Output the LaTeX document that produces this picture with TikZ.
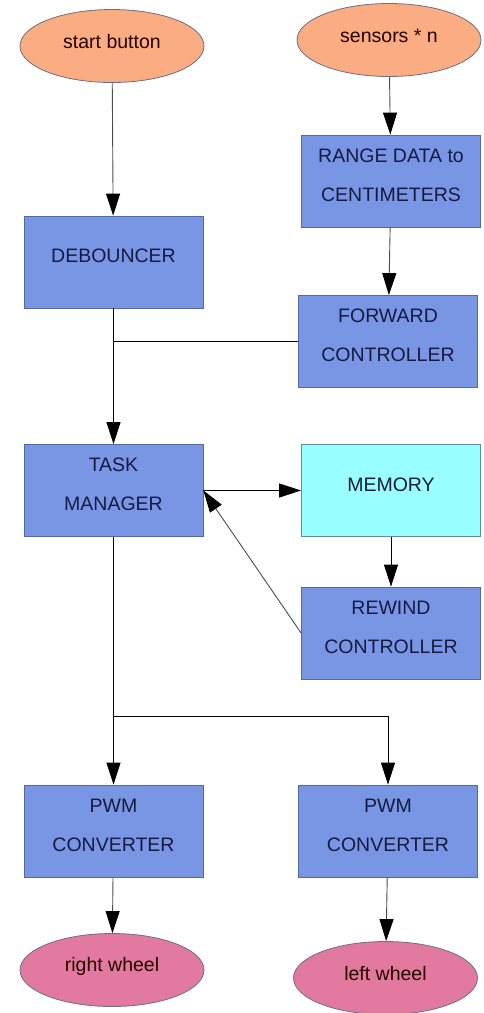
\documentclass[tikz,border=0pt]{standalone}
\usepackage{fontspec}
\setmainfont{Liberation Sans}
\usetikzlibrary{arrows.meta,shapes.geometric}

\definecolor{boxblue}{RGB}{121,150,229}
\definecolor{boxline}{RGB}{82,104,168}
\definecolor{memcyan}{RGB}{153,255,255}
\definecolor{memline}{RGB}{96,140,160}
\definecolor{salmon}{RGB}{250,172,130}
\definecolor{wheelpink}{RGB}{226,122,160}
\definecolor{ovalline}{RGB}{110,110,130}
\definecolor{boxtext}{RGB}{22,26,62}

\tikzset{
  block/.style={draw=boxline, fill=boxblue, line width=0.8pt,
                minimum width=179pt, minimum height=92pt, inner sep=0pt},
  oval/.style={ellipse, draw=ovalline, line width=0.8pt,
               minimum width=184pt, minimum height=73pt, inner sep=0pt},
  txt/.style={yshift=6pt, align=center, text=boxtext,
              font=\fontsize{19.5}{39}\selectfont},
  ovaltxt/.style={yshift=4pt, text=black!85!red,
                  font=\fontsize{19.5}{24}\selectfont},
  flow/.style={line width=0.9pt, -{Triangle[length=22pt,width=14pt,color=black]}},
  wire/.style={line width=0.9pt}
}

\begin{document}
\begin{tikzpicture}[x=1pt, y=-1pt]
  \useasboundingbox (0,0) rectangle (483,1013);

  % inputs
  \node[oval, fill=salmon, label={[ovaltxt]center:start button}] (start) at (112,46) {};
  \node[oval, fill=salmon, label={[ovaltxt]center:sensors * n}] (sens) at (389,40) {};

  % processing blocks
  \node[block, label={[txt]center:RANGE DATA to\\CENTIMETERS}] (rng) at (391,181) {};
  \node[block, label={[txt]center:DEBOUNCER}] (deb) at (113.5,262) {};
  \node[block, label={[txt]center:FORWARD\\CONTROLLER}] (fwd) at (388,341.5) {};
  \node[block, label={[txt]center:TASK\\MANAGER}] (tm) at (113.5,490.5) {};
  \node[block, draw=memline, fill=memcyan, label={[txt]center:MEMORY}] (mem) at (391,490.5) {};
  \node[block, label={[txt]center:REWIND\\CONTROLLER}] (rew) at (391,633) {};
  \node[block, label={[txt]center:PWM\\CONVERTER}] (pwmr) at (113.5,831) {};
  \node[block, label={[txt]center:PWM\\CONVERTER}] (pwml) at (388,831) {};

  % outputs
  \node[oval, fill=wheelpink, label={[ovaltxt]center:right wheel}] (rwh) at (112,970) {};
  \node[oval, fill=wheelpink, label={[ovaltxt]center:left wheel}] (lwh) at (385.5,978) {};

  \coordinate (split) at (113.5,716);

  \draw[flow, black!70] (start) -- (deb);
  \draw[flow, black!70] (sens) -- (rng);
  \draw[flow, black!70] (rng) -- (fwd);
  \draw[wire] (fwd.west) -- (fwd.west -| deb.south);
  \draw[flow] (deb) -- (tm);
  \draw[flow] (tm.east) -- (mem.west);
  \draw[flow] (mem) -- (rew);
  \draw[flow, black!70] (rew.west) -- (tm.east);
  \draw[wire] (tm.south) -- (split);
  \draw[flow] (split) -- (pwmr.north);
  \draw[flow] (split) -- (split -| pwml.north) -- (pwml.north);
  \draw[flow, black!70] (pwmr) -- (rwh);
  \draw[flow, black!70] (pwml) -- (lwh);
\end{tikzpicture}
\end{document}
